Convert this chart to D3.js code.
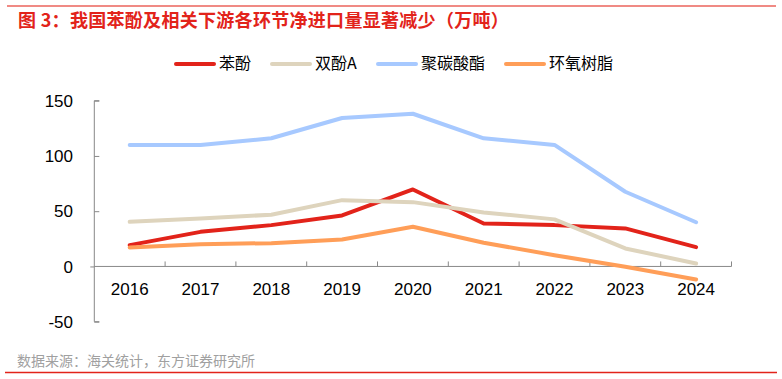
<!DOCTYPE html>
<html><head><meta charset="utf-8">
<script src="https://cdn.jsdelivr.net/npm/d3@7"></script>
<style>
html,body{margin:0;padding:0;background:#fff;}
svg{display:block;}
</style></head>
<body>
<svg id="chart" width="782" height="379"></svg>
<script>
const years = ["2016","2017","2018","2019","2020","2021","2022","2023","2024"];
const phenol = [19.3, 31.3, 37.4, 46.2, 69.7, 38.9, 37.4, 34.4, 17.5];
const bpa = [40.4, 43.5, 46.8, 60.0, 58.2, 48.9, 42.6, 16.3, 2.7];
const pc = [110, 110, 116, 134.3, 138.2, 116, 110, 67.6, 40];
const epoxy = [17.2, 20.2, 21.1, 24.4, 35.9, 21.4, 10.2, -0.3, -11.8];
const seriesNames = ["苯酚", "双酚A", "聚碳酸酯", "环氧树脂"];
const yTicks = [-50, 0, 50, 100, 150];
const titleText = "图 3：我国苯酚及相关下游各环节净进口量显著减少（万吨）";
const sourceText = "数据来源：海关统计，东方证券研究所";

const colors = ["#E2231A", "#DED4BD", "#A7C9FF", "#FF9E58"];
const seriesData = [phenol, bpa, pc, epoxy];

const svg = d3.select("#chart");
const font = "'Liberation Sans', Arial, 'Noto Sans CJK SC', sans-serif";
const cjk = "'Noto Sans CJK SC', 'Liberation Sans', sans-serif";

// top rule
svg.append("line").attr("x1", 7).attr("x2", 776).attr("y1", 6).attr("y2", 6)
  .attr("stroke", "#F08A84").attr("stroke-width", 2);
// title
svg.append("text").attr("x", 18).attr("y", 26.5).text(titleText)
  .attr("font-family", cjk).attr("font-size", 18).attr("letter-spacing", 0.3)
  .attr("font-weight", "bold").attr("fill", "#E2231A");

const x = d3.scaleBand().domain(years).range([94.3, 731.5]);
const y = d3.scaleLinear().domain([-50, 150]).range([321.7, 100.7]);

// y axis
const yAxis = svg.append("g").attr("transform", "translate(94.3,0)")
  .call(d3.axisRight(y).tickValues(yTicks).tickSize(5).tickFormat(""));
yAxis.select(".domain").attr("stroke", "#888").attr("d", `M5,${y(150)}H0V${y(-50)}H5`);
yAxis.selectAll(".tick line").attr("stroke", "#888");
yAxis.selectAll(".tick").filter(d => d === 0).select("line").attr("x2", -4);
svg.append("g").selectAll("text").data(yTicks).join("text")
  .attr("x", 73).attr("y", d => y(d)).attr("dy", "0.36em")
  .attr("text-anchor", "end").attr("font-family", font).attr("font-size", 17).attr("fill", "#000")
  .text(d => d);

// x axis at zero
const xAxis = svg.append("g").attr("transform", `translate(0,${y(0)})`)
  .call(d3.axisTop(x).tickSize(0).tickFormat(""));
xAxis.select(".domain").attr("stroke", "#888").attr("d", `M${x.range()[0]},0H${x.range()[1]}`);
const bounds = x.domain().map(d => x(d)).concat([x.range()[1]]).slice(1);
svg.append("g").selectAll("line").data(bounds).join("line")
  .attr("x1", d => d).attr("x2", d => d).attr("y1", y(0) - 5).attr("y2", y(0))
  .attr("stroke", "#888");
svg.append("g").selectAll("text").data(years).join("text")
  .attr("x", d => x(d) + x.bandwidth() / 2).attr("y", 288.5).attr("dy", "0.36em")
  .attr("text-anchor", "middle").attr("font-family", font).attr("font-size", 17).attr("fill", "#000")
  .text(d => d);

// lines
const line = d3.line().x((d, i) => x(years[i]) + x.bandwidth() / 2).y(d => y(d));
svg.append("g").selectAll("path").data(seriesData).join("path")
  .attr("d", d => line(d)).attr("fill", "none")
  .attr("stroke", (d, i) => colors[i]).attr("stroke-width", 4)
  .attr("stroke-linejoin", "round").attr("stroke-linecap", "round");

// legend
const legendX = [175, 271, 377, 505];
const lg = svg.append("g");
seriesNames.forEach((n, i) => {
  lg.append("line").attr("x1", legendX[i] + 1).attr("x2", legendX[i] + 39).attr("y1", 64).attr("y2", 64)
    .attr("stroke", colors[i]).attr("stroke-width", 4).attr("stroke-linecap", "round");
  lg.append("text").attr("x", legendX[i] + 44).attr("y", 63).attr("dy", "0.36em")
    .attr("font-family", cjk).attr("font-size", 16).attr("fill", "#000").text(n);
});

// source
svg.append("text").attr("x", 17).attr("y", 361).attr("dy", "0.36em").text(sourceText)
  .attr("font-family", cjk).attr("font-size", 14).attr("fill", "#A0A0A0");
svg.append("line").attr("x1", 5).attr("x2", 777).attr("y1", 372.5).attr("y2", 372.5)
  .attr("stroke", "#E2231A").attr("stroke-width", 1.5);
</script>
</body></html>
